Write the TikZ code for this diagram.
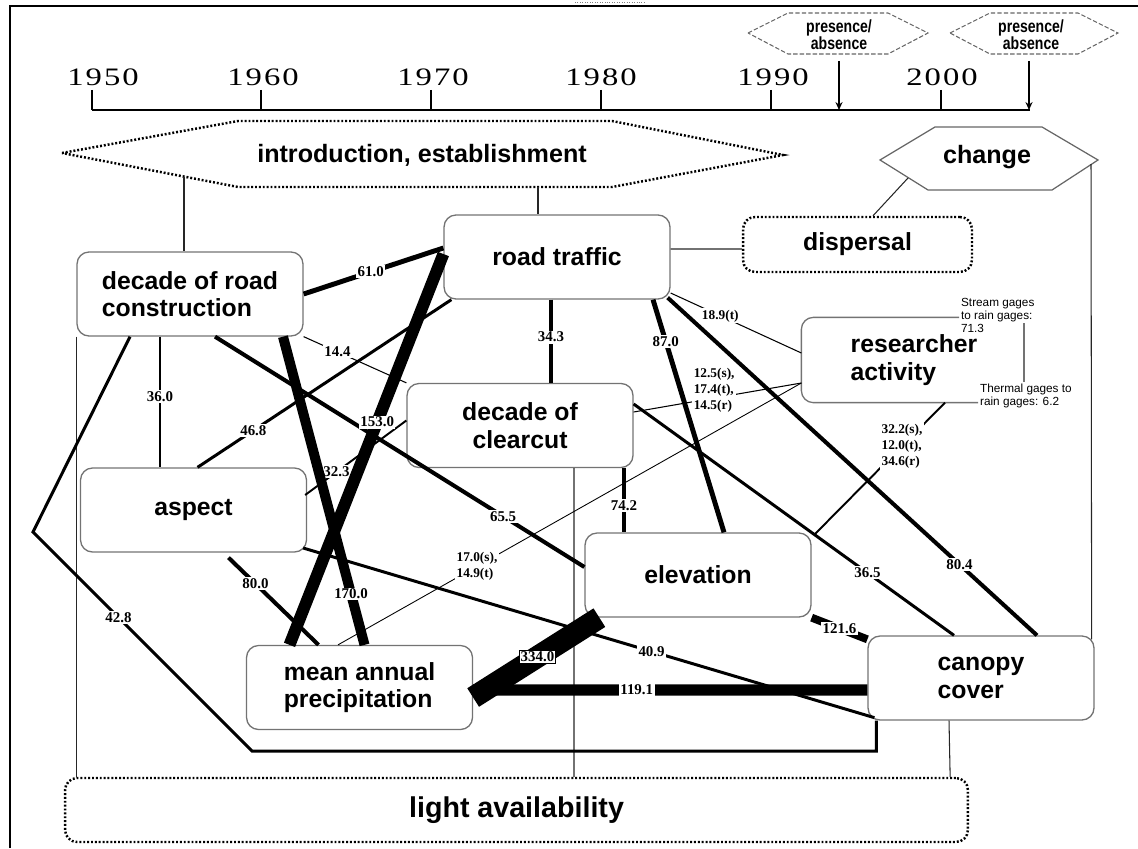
\documentclass[tikz,border=0pt]{standalone}
\usepackage{fontspec}
\setmainfont{Liberation Sans}
\newfontfamily\yearfont[LetterSpace=8,FakeStretch=1.3]{Liberation Serif}
\newfontfamily\weightfont{Liberation Serif}
\newfontfamily\presfont[FakeStretch=0.8]{Liberation Sans}
\usetikzlibrary{calc,arrows.meta}
\definecolor{boxgray}{rgb}{0.45,0.45,0.45}
\definecolor{hexgray}{rgb}{0.40,0.40,0.40}

\tikzset{
  box/.style={draw=boxgray, line width=0.75pt, rounded corners=0.24cm,
    minimum width=4.52cm, minimum height=1.68cm, align=center,
    font=\bfseries\fontsize{14.1}{15.6}\selectfont},
  dotline/.style={line width=1.4pt, dash pattern=on 1.1pt off 1.1pt},
  dotbox/.style={box, draw=black, dotline},
  hexline/.style={draw=hexgray, line width=0.7pt},
  preshex/.style={draw=hexgray, line width=0.6pt, dash pattern=on 2.5pt off 1.2pt},
  hextxt/.style={font=\bfseries\fontsize{14.3}{16}\selectfont, inner sep=0pt},
  prestxt/.style={font=\presfont\bfseries\fontsize{10}{9.7}\selectfont, align=center, inner sep=0pt},
  yearlbl/.style={font=\yearfont\fontsize{14.3}{16}\selectfont, inner sep=0pt},
  gage/.style={font=\fontsize{6.7}{7.4}\selectfont, align=left, inner sep=1pt},
  boxline/.style={draw=boxgray, line width=0.75pt},
  thinlink/.style={draw=black!85, line width=0.6pt},
  link/.style={draw=black, line width=#1},
  wt/.style={fill=white, inner sep=0.8pt, align=left,
    font=\weightfont\bfseries\fontsize{8.5}{9.2}\selectfont},
  wtsmall/.style={wt, font=\weightfont\bfseries\fontsize{7.6}{9.2}\selectfont},
  wtbox/.style={wt, draw, line width=0.4pt, inner sep=0.6pt},
  presarrow/.style={line width=0.85pt, -{Stealth[length=4.5pt,width=4pt]}}
}

\begin{document}
\begin{tikzpicture}[x=0.02cm,y=-0.02cm]
\useasboundingbox (0,0) rectangle (1138,848);
\draw[line width=1.5pt] (10,848) -- (10,6) -- (1138,6);
\draw[gray, densely dotted] (575,2) -- (645,2);

% time line
\coordinate (tline) at (0,110);
\draw[line width=0.85pt] (92,110) -- (1030,110);
\foreach \yr/\xx/\lx in {1950/92/103,1960/261/263,1970/431/433,1980/601/601,1990/771/773,2000/941/942}{
  \draw[line width=0.85pt] (\xx,90) -- (\xx,110);
  \node[yearlbl] (y\yr) at (\lx,77) {\yr};
}
\draw[preshex] (748,33) -- (788,13) -- (888,13) -- (928,33) -- (888,54) -- (788,54) -- cycle;
\node[prestxt] (pres1) at (839,35) {presence/\\absence};
\draw[preshex] (950,33) -- (990,13) -- (1078,13) -- (1118,33) -- (1078,54) -- (990,54) -- cycle;
\node[prestxt] (pres2) at (1031,35) {presence/\\absence};
\draw[presarrow] ($(pres1)+(0,26)$) -- (pres1 |- tline);
\draw[presarrow] ($(pres2)+(-2,26)$) -- ($(pres2 |- tline)+(-2,0)$);

% hexagons
\draw[dotline] (62,153) -- (238,121) -- (612,121) -- (783,155) -- (612,187) -- (238,187) -- cycle;
\node[hextxt] (intro) at (422,155) {introduction, establishment};
\coordinate (introA) at (184,177);
\coordinate (introB) at (538,187);
\draw[hexline] (880,160) -- (935,127) -- (1042,127) -- (1098,160) -- (1052,190) -- (928,190) -- cycle;
\node[hextxt] (change) at (987,157) {change};
\coordinate (changeA) at (908,178);
\coordinate (changeB) at (1091,164);

% boxes
\node[box, align=left] (roadc) at (190,294) {decade of road\\construction};
\node[box] (traffic) at (557,257) {road traffic};
\node[dotbox, minimum width=4.58cm, minimum height=1.1cm] (dispersal) at (857.5,244.5) {dispersal};
\node[box, draw=none, align=left, minimum width=4.48cm] (research) at (914,360) {researcher\\activity};
\node[box] (clearcut) at (520,425.5) {decade of\\clearcut};
\node[box] (aspect) at (193.5,510) {aspect};
\node[box] (elevation) at (698,575) {elevation};
\node[box, align=left] (precip) at (359.5,687.5) {mean annual\\precipitation};
\node[box, align=left] (canopy) at (981,678) {canopy\\cover};
\node[dotbox, minimum width=18.06cm, minimum height=1.28cm,
  font=\bfseries\fontsize{16.3}{18}\selectfont] (light) at (516.5,810) {light availability};

\node[gage, anchor=west] (gageS) at (959,315) {Stream gages\\to rain gages:\\71.3};
\node[gage, anchor=west] (gageT) at (978,395.5) {Thermal gages to\\rain gages: 6.2};
\draw[boxline, rounded corners=0.24cm] (gageS.west |- research.north) -- (research.north west)
  -- (research.south west) -- (gageT.west |- research.south);
\draw[boxline] ($(gageS.west)+(65,8)$) -- ($(gageT.west)+(46,-13.5)$);

% plain links
\draw[thinlink] (introA) -- (introA |- roadc.north);
\draw[thinlink] (introB) -- (introB |- traffic.north);
\draw[thinlink] (changeA) -- ($(dispersal.north)+(15.5,0)$);
\draw[thinlink] (changeB) -- ($(canopy.north east)+(-3,4)$);
\draw[thinlink] ($(traffic.east)+(0,-8)$) -- ($(dispersal.west)+(0,4.5)$);
\draw[thinlink] (roadc.south west) -- (roadc.south west |- light.north);
\draw[thinlink] ($(clearcut.south)+(54,0)$) -- ($(light.north)+(57.5,0)$);
\draw[thinlink] ($(canopy.south)+(-32,0)$) -- ($(light.north east)+(-19,0)$);

% weighted links
\draw[link=0.5pt] ($(research.west)+(0,23)$) -- node[wtsmall, pos=0.7] {17.0(s),\\14.9(t)} ($(precip.north)+(-21.5,0)$);
\draw[link=0.6pt] (roadc.south east) -- node[wt, pos=0.33] {14.4} (clearcut.north west);
\draw[link=0.6pt] ($(traffic.east)+(0,36)$) -- node[wtsmall, pos=0.38] {18.9(t)} ($(research.west)+(0,-7)$);
\draw[link=0.6pt] ($(clearcut.east)+(0,-13.5)$) -- node[wtsmall, pos=0.48, yshift=0.16cm] {12.5(s),\\17.4(t),\\14.5(r)} ($(research.west)+(0,23)$);
\draw[link=1.1pt] ($(aspect.east)+(-2,-15)$) -- node[wt, pos=0.31] {32.3} ($(clearcut.west)+(0,-5)$);
\draw[link=1.1pt] ($(research.south)+(31,0)$) -- node[wtsmall, pos=0.33] {32.2(s),\\12.0(t),\\34.6(r)} ($(elevation.north east)+(3,2)$);
\draw[link=1.7pt] ($(roadc.south)+(-30,0)$) -- node[wt, pos=0.46] {36.0} ($(aspect.north)+(-33.5,0)$);
\draw[link=1.7pt] ($(aspect.north)+(4,0)$) -- node[wt, pos=0.22] {46.8} ($(traffic.south west)+(8,0)$);
\draw[link=1.7pt] ($(aspect.east)+(-4,38)$) -- node[wt, pos=0.61] {40.9} ($(canopy.south west)+(7,-3)$);
\draw[link=1.7pt] ($(clearcut.east)+(0,-21.5)$) -- node[wt, pos=0.73] {36.5} ($(canopy.north)+(-27,0)$);
\coordinate (bendA) at (33,532);
\coordinate (bendB) at (252,751);
\draw[link=1.7pt] ($(roadc.south)+(-60,0)$) -- (bendA) -- node[wt, pos=0.39] {42.8} (bendB)
  -- (bendB -| canopy.south west) -- ++(9,0) -- ($(canopy.south west)+(9,0)$);
\draw[link=2.3pt] ($(roadc.south)+(25,0)$) -- node[wt, pos=0.78] {65.5} ($(elevation.west)+(0,-8)$);
\draw[link=2.3pt] (aspect.south) ++(35,5) -- node[wt, pos=0.3] {80.0} ($(precip.north)+(-41,0)$);
\draw[link=2.3pt] ($(traffic.south)+(-6,0)$) -- node[wt, pos=0.45] {34.3} ($(clearcut.north)+(31,0)$);
\draw[link=2.3pt] ($(traffic.south east)+(-3,-2)$) -- node[wt, pos=0.79] {80.4} ($(canopy.north)+(56,0)$);
\draw[link=2.8pt] (roadc.east) -- node[wt, pos=0.48] {61.0} ($(traffic.west)+(0,-9)$);
\draw[link=2.8pt] ($(traffic.south)+(96,0)$) -- node[wt, pos=0.18] {87.0} ($(elevation.north)+(26,0)$);
\draw[link=2.8pt] ($(clearcut.south)+(104,0)$) -- node[wt, pos=0.58] {74.2} ($(elevation.north)+(-74,0)$);
\draw[link=4.5pt] (elevation.south east) -- node[wt, pos=0.5] {121.6} ($(canopy.north west)+(0,4)$);
\draw[link=5.7pt] ($(roadc.south)+(93,0)$) -- node[wt, pos=0.835] {170.0} ($(precip.north)+(5,0)$);
\draw[link=6.8pt] ($(traffic.west)+(0,-3)$) -- node[wt, pos=0.43] {153.0} ($(precip.north)+(-70,0)$);
\draw[link=6.3pt] ($(precip.east)+(0,2.5)$) -- node[wt, pos=0.415] {119.1} ($(canopy.west)+(0,12)$);
\draw[link=12.5pt] ($(precip.east)+(0,10)$) -- node[wtbox, pos=0.51] {334.0} ($(elevation.south west)+(15,0)$);
\end{tikzpicture}
\end{document}
